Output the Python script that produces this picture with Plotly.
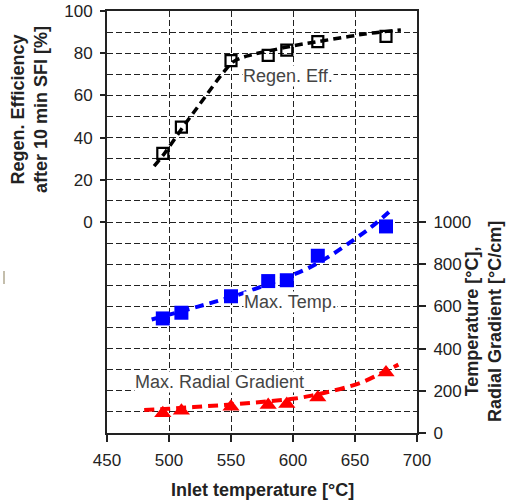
import plotly.graph_objects as go

# ---------------- data ----------------
inlet_temp = [495, 510, 550, 580, 595, 620, 675]
regen_eff = [32.5, 45, 76.5, 79, 81.5, 85.5, 88]
max_temp = [543, 570, 648, 720, 724, 840, 979]
max_grad = [94, 106, 125, 133, 138, 168, 287]

regen_fit_x = [488, 497, 510, 520, 530, 544, 552, 565, 580, 600, 620, 646, 663, 687]
regen_fit_y = [26.5, 33, 44, 52, 60, 71, 76, 79, 81, 83.5, 85.5, 88, 89.5, 91]

temp_fit_x = [486, 510, 530, 550, 570, 590, 610, 630, 650, 665, 680]
temp_fit_y = [538, 577, 610, 644, 684, 728, 775, 840, 920, 985, 1062]

grad_fit_x = [480, 500, 520, 540, 560, 580, 600, 615, 630, 645, 657, 670, 685]
grad_fit_y = [109, 115, 123, 131, 140, 150, 162, 177, 197, 220, 244, 280, 324]

x_ticks = [450, 500, 550, 600, 650, 700]
left_ticks = [0, 20, 40, 60, 80, 100]
right_ticks = [0, 200, 400, 600, 800, 1000]

# ---------------- layout geometry ----------------
W, H = 510, 504
L, R, T, B = 107, 417, 11, 433
FONT = "Liberation Sans, Arial, sans-serif"

def px_x(p):
    return (p - L) / (R - L)

def px_y(p):
    return (B - p) / (B - T)

fig = go.Figure()

fig.add_trace(go.Scatter(x=regen_fit_x, y=regen_fit_y, mode="lines",
                         line=dict(color="black", width=3.5, dash="8px,5px", shape="spline"),
                         yaxis="y", showlegend=False, hoverinfo="skip"))
fig.add_trace(go.Scatter(x=inlet_temp, y=regen_eff, mode="markers",
                         marker=dict(symbol="square-open", size=11, color="black",
                                     line=dict(width=2.2, color="black")),
                         yaxis="y", showlegend=False))

fig.add_trace(go.Scatter(x=temp_fit_x, y=temp_fit_y, mode="lines",
                         line=dict(color="#0000ff", width=4, dash="9px,6px", shape="spline"),
                         yaxis="y2", showlegend=False, hoverinfo="skip"))
fig.add_trace(go.Scatter(x=inlet_temp, y=max_temp, mode="markers",
                         marker=dict(symbol="square", size=14, color="#0000ff"),
                         yaxis="y2", showlegend=False))

fig.add_trace(go.Scatter(x=grad_fit_x, y=grad_fit_y, mode="lines",
                         line=dict(color="#ff0000", width=4, dash="10px,6px", shape="spline"),
                         yaxis="y2", showlegend=False, hoverinfo="skip"))
fig.add_trace(go.Scatter(x=inlet_temp, y=max_grad, mode="markers",
                         marker=dict(symbol="triangle-up", size=15, color="#ff0000"),
                         yaxis="y2", showlegend=False))

tickfont = dict(family=FONT, size=17, color="#222")
grid_kw = dict(gridcolor="#222", gridwidth=1.3, griddash="6px,3px")

fig.update_layout(
    width=W, height=H,
    margin=dict(l=L, r=W - R, t=T, b=H - B, pad=0, autoexpand=False),
    paper_bgcolor="white", plot_bgcolor="white",
    showlegend=False,
    xaxis=dict(range=[450, 700], tickmode="array", tickvals=x_ticks,
               ticks="outside", ticklen=7, tickwidth=1.5, tickcolor="#222",
               showline=True, linecolor="#222", linewidth=2, mirror=True,
               showgrid=True, zeroline=False, tickfont=tickfont, automargin=False,
               ticklabelstandoff=4, **grid_kw),
    yaxis=dict(range=[-100, 100], tickmode="array", tickvals=left_ticks,
               ticks="outside", ticklen=5, tickwidth=1.5, tickcolor="#222",
               showline=True, linecolor="#222", linewidth=2, mirror=True,
               zeroline=False, tickfont=tickfont, automargin=False,
               ticklabelstandoff=4, showgrid=True, **grid_kw,
               minor=dict(tickmode="linear", tick0=0, dtick=10, ticks="",
                          showgrid=True, gridcolor="#222", gridwidth=1.3,
                          griddash="6px,3px")),
    yaxis2=dict(range=[0, 2000], tickmode="array", tickvals=right_ticks,
                overlaying="y", side="right", anchor="x",
                ticks="outside", ticklen=8, tickwidth=1.5, tickcolor="#222",
                showline=False, showgrid=False, zeroline=False, tickfont=tickfont,
                automargin=False, ticklabelstandoff=4),
)

label_font = dict(family=FONT, size=18, color="#444")
fig.add_annotation(x=559, y=69, xref="x", yref="y", text="Regen. Eff.",
                   showarrow=False, xanchor="left", yanchor="middle",
                   font=label_font, bgcolor="white", borderpad=0)
fig.add_annotation(x=559.5, y=619, xref="x", yref="y2", text="Max. Temp.",
                   showarrow=False, xanchor="left", yanchor="middle",
                   font=label_font, bgcolor="white", borderpad=0)
fig.add_annotation(x=472, y=243, xref="x", yref="y2", text="Max. Radial Gradient",
                   showarrow=False, xanchor="left", yanchor="middle",
                   font=label_font, bgcolor="white", borderpad=0)

title_font = dict(family=FONT, size=18, color="#222")
fig.add_annotation(x=px_x(29), y=px_y(110), xref="paper", yref="paper",
                   text="<b>Regen. Efficiency<br>after 10 min SFI [%]</b>",
                   textangle=-90, showarrow=False, xanchor="center", yanchor="middle",
                   font=title_font)
fig.add_annotation(x=px_x(483), y=px_y(322), xref="paper", yref="paper",
                   text="<b>Temperature [°C],<br>Radial Gradient [°C/cm]</b>",
                   textangle=-90, showarrow=False, xanchor="center", yanchor="middle",
                   font=title_font)
fig.add_annotation(x=px_x(262), y=px_y(490), xref="paper", yref="paper",
                   text="<b>Inlet temperature [°C]</b>",
                   showarrow=False, xanchor="center", yanchor="middle",
                   font=title_font)

# small stray mark at the left edge of the original image
fig.add_shape(type="line", xref="paper", yref="paper",
              x0=px_x(4), x1=px_x(4), y0=px_y(271), y1=px_y(284),
              line=dict(color="#b0a890", width=1.5))

fig.write_html("out.html", config={"displayModeBar": False},
               post_script="document.body.style.margin='0';document.body.style.overflow='hidden';")
